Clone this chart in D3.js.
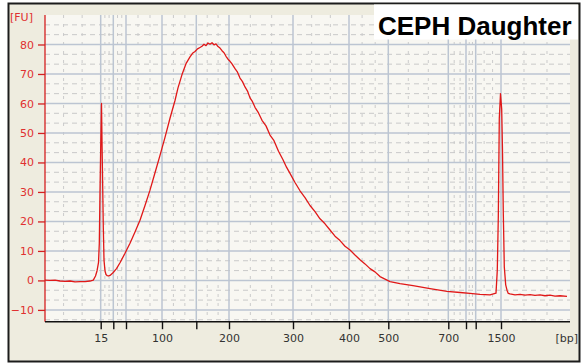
<!DOCTYPE html>
<html>
<meta charset="utf-8">
<style>
  body { margin: 0; background: #ffffff; }
  text { font-family: "DejaVu Sans", Verdana, sans-serif; }
</style>
<!-- Load d3.js -->
<script src="https://d3js.org/d3.v7.min.js"></script>

<div id="my_dataviz"></div>

<script>

// ladder sizes (bp) and where each ladder peak sits on the time axis (s)
var ladderBp   = [15, 25, 50, 100, 150, 200, 300, 400, 500, 700, 850, 1000, 1500];
var ladderTime = [31.14, 33.66, 36.2, 43.4, 50.26, 56.8, 69.6, 80.8, 88.66, 100.66, 104.2, 106.14, 111.2];
var labeledBp  = [15, 100, 200, 300, 400, 500, 700, 1500];

var timeRange = [20, 125];
var fuRange   = [-14, 90];
var fuTicks   = [-10, 0, 10, 20, 30, 40, 50, 60, 70, 80];

// electropherogram trace: time (s) vs fluorescence (FU)
var sampleTime = [20, 21, 22, 23, 24, 25, 26, 27, 28, 29, 29.66, 30.1, 30.4, 30.7, 30.86, 31.0, 31.14, 31.3, 31.42, 31.54, 31.66, 31.8, 32.0, 32.2, 32.45, 32.66, 33.0, 33.6,
  34.3, 35, 36, 37, 38, 39, 40, 41, 42, 43, 44, 45, 46, 46.6, 47.4, 48.2, 49, 49.5, 50, 50.5, 51, 51.4, 51.8, 52.2, 52.6, 53, 53.4, 53.8, 54.2, 54.6,
  55, 55.4, 55.8, 56.2, 56.6, 57, 57.4, 58, 58.5, 59, 59.5, 60, 60.5, 61, 61.5, 62, 62.7, 63.4, 64.2, 65, 65.8, 66.7, 67.6, 68.3, 69, 70, 71, 72, 73, 74, 75, 76, 77, 78, 79, 80, 81, 82, 83, 84, 85, 86, 87, 89, 91, 93.6, 97,
  100.4, 103, 105, 107, 109, 110.2, 110.46, 110.66, 110.86, 111.1, 111.34, 111.5, 111.66, 111.86, 112.14, 112.4, 112.66, 113, 114, 115, 116, 117,
  118, 119, 120, 121, 122, 123, 124.4];
var sampleFU = [0.1, 0.0, 0.1, -0.2, -0.3, -0.2, -0.5, -0.4, -0.4, -0.2, 0.1, 1.5, 3.2, 6.0, 12.5, 30, 44.8, 60.0, 45, 31.7, 18, 6.9, 3.2, 2.0, 1.6, 1.5, 1.7, 2.6,
  4.0, 6.0, 9.2, 12.6, 16.4, 20.4, 25.4, 30.6, 36.5, 42.4, 48.5, 55.0, 61.0, 65.3, 69.8, 73.5, 75.8, 77.0, 77.6, 78.5, 79.0, 79.4, 80.1, 79.6, 80.5, 80.1, 80.6, 79.9, 80.2, 79.3,
  78.8, 77.9, 77.2, 76.0, 75.0, 74.3, 73.4, 71.8, 70.6, 68.6, 67.4, 65.6, 64.2, 61.9, 60.6, 58.7, 56.8, 54.3, 52.4, 49.3, 47.4, 43.8, 40.9, 38.4, 36.3, 33.2, 30.4, 28.1, 25.4, 23.3, 20.9, 19.2, 17.1, 15.0, 13.5, 11.6, 10.3, 8.6, 7.0, 5.6, 4.0, 2.9, 1.3, -0.4, -1.1, -1.8, -2.8,
  -3.7, -4.1, -4.4, -4.7, -4.9, -4.3, 3.5, 21.5, 55.0, 63.3, 58, 44.0, 22.8, 4.6, -1.5, -3.3, -4.4, -4.6, -4.9, -4.7, -5.0, -4.8,
  -5.1, -4.9, -5.2, -5.0, -5.3, -5.2, -5.4];

// set the dimensions and margins of the graph
var W = 583, H = 363;
var margin = {top: 15, right: 13, bottom: 41.3, left: 45},
    width = W - margin.left - margin.right,
    height = H - margin.top - margin.bottom;

var svg0 = d3.select("#my_dataviz")
  .append("svg")
    .attr("width", W)
    .attr("height", H);

// window frame
svg0.append("rect")
  .attr("x", 8.5).attr("y", 3.5)
  .attr("width", 571).attr("height", 358)
  .attr("fill", "#eeecdf")
  .attr("stroke", "#1c1c1c")
  .attr("stroke-width", 2);

var svg = svg0.append("g")
  .attr("transform", "translate(" + margin.left + "," + margin.top + ")");

// scales
var x = d3.scaleLinear().domain(timeRange).range([0, width]);
var y = d3.scaleLinear().domain(fuRange).range([height, 0]);

// plot background
svg.append("rect")
  .attr("width", width).attr("height", height)
  .attr("fill", "#f8f7f2");

// minor grid: thirds between major lines
var xMajor = [timeRange[0]].concat(ladderTime).concat([timeRange[1]]);
var xMinor = [];
for (var i = 0; i < xMajor.length - 1; i++) {
  var a = xMajor[i], b = xMajor[i + 1];
  xMinor.push(a + (b - a) / 3, a + 2 * (b - a) / 3);
}
var yMinor = [];
for (var v = -20; v < 90; v += 10) {
  yMinor.push(v + 10 / 3, v + 20 / 3);
}
yMinor = yMinor.filter(function(d) { return d > fuRange[0] && d < fuRange[1]; });

svg.selectAll(".vminor").data(xMinor).enter().append("line")
  .attr("x1", function(d) { return x(d); }).attr("x2", function(d) { return x(d); })
  .attr("y1", 0).attr("y2", height)
  .attr("stroke", "#cbcbcb").attr("stroke-width", 1)
  .attr("stroke-dasharray", "3,6");

svg.selectAll(".hminor").data(yMinor).enter().append("line")
  .attr("x1", 0).attr("x2", width)
  .attr("y1", function(d) { return y(d); }).attr("y2", function(d) { return y(d); })
  .attr("stroke", "#c9c9c9").attr("stroke-width", 1)
  .attr("stroke-dasharray", "5,4");

// major grid
svg.selectAll(".vmajor").data(ladderTime).enter().append("line")
  .attr("x1", function(d) { return x(d); }).attr("x2", function(d) { return x(d); })
  .attr("y1", 0).attr("y2", height)
  .attr("stroke", "#bcc5d2").attr("stroke-width", 1.5);

svg.selectAll(".hmajor").data(fuTicks).enter().append("line")
  .attr("x1", 0).attr("x2", width)
  .attr("y1", function(d) { return y(d); }).attr("y2", function(d) { return y(d); })
  .attr("stroke", "#bcc5d2").attr("stroke-width", 1.5);

// trace
var trace = sampleTime.map(function(t, i) { return [t, sampleFU[i]]; });
svg.append("path")
  .datum(trace)
  .attr("fill", "none")
  .attr("stroke", "#e01818")
  .attr("stroke-width", 1.3)
  .attr("stroke-linejoin", "round")
  .attr("d", d3.line()
    .x(function(d) { return x(d[0]); })
    .y(function(d) { return y(d[1]); }));

// Y axis (red)
var yAxis = svg.append("g")
  .call(d3.axisLeft(y).tickValues(fuTicks).tickSize(7).tickPadding(4));
yAxis.select(".domain").attr("stroke", "#d42020").attr("stroke-width", 1.3).attr("d", "M0," + height + "V0");
yAxis.selectAll(".tick line").attr("stroke", "#d42020").attr("stroke-width", 1.3);
yAxis.selectAll(".tick text")
  .attr("fill", "#e03030")
  .style("font-size", "11px");

svg.append("text")
  .attr("x", -35).attr("y", 6)
  .attr("fill", "#e03030")
  .style("font-size", "11px")
  .text("[FU]");

// X axis (black), labels in bp at ladder positions
var xAxis = svg.append("g")
  .attr("transform", "translate(0," + height + ")")
  .call(d3.axisBottom(x).tickValues(ladderTime).tickSize(7.5).tickPadding(5)
    .tickFormat(function(d) {
      var b = ladderBp[ladderTime.indexOf(d)];
      return labeledBp.indexOf(b) >= 0 ? b : "";
    }));
xAxis.select(".domain").attr("stroke", "#111").attr("stroke-width", 1.5).attr("d", "M0,0H" + width);
xAxis.selectAll(".tick line").attr("stroke", "#111").attr("stroke-width", 1.4);
xAxis.selectAll(".tick text")
  .attr("fill", "#333")
  .style("font-size", "11px");

xAxis.append("text")
  .attr("x", width + 8).attr("y", 12.5).attr("dy", "0.71em")
  .attr("text-anchor", "end")
  .attr("fill", "#333")
  .style("font-size", "11px")
  .text("[bp]");

// title box
svg0.append("rect")
  .attr("x", 374).attr("y", 4.5)
  .attr("width", 204).attr("height", 35)
  .attr("fill", "#ffffff");
svg0.append("text")
  .attr("x", 378).attr("y", 35)
  .style("font-family", "'Liberation Sans', Arial, sans-serif")
  .style("font-weight", "bold")
  .style("font-size", "26px")
  .attr("fill", "#000")
  .text("CEPH Daughter");

</script>
</html>
